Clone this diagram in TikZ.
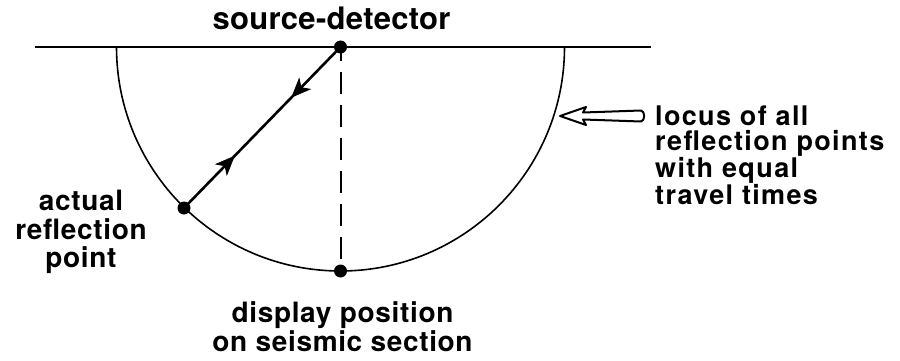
\documentclass[tikz,border=0pt]{standalone}
\usepackage{fontspec}
\setmainfont{TeX Gyre Heros}
\usetikzlibrary{calc}
\begin{document}
\begin{tikzpicture}[x=1pt,y=-1pt,
  dot/.style={circle,fill=black,inner sep=0pt,minimum size=13pt},
  geo/.style={line width=1.6pt},
  ray/.style={line width=2.6pt},
  head/.style={fill=black,draw=black,line width=0.8pt,line join=miter},
  dash line/.style={line width=2pt,dash pattern=on 22pt off 11pt,dash phase=8pt},
  lbl/.style={inner sep=0pt,text=black},
  bigfont/.style={font=\bfseries\fontsize{31}{31}\selectfont\addfontfeature{LetterSpace=1}},
  rfont/.style={font=\bfseries\fontsize{27}{25}\selectfont\addfontfeature{LetterSpace=5}},
  lfont/.style={font=\bfseries\fontsize{28}{28.5}\selectfont\addfontfeature{LetterSpace=2.3}},
  hollow/.style={line width=2pt,line join=round,fill=white}
]
\useasboundingbox (0,0) rectangle (900,361);
% ground line
\coordinate (gl) at (35,47);
\coordinate (gr) at (651,47);
\draw[geo] (gl) -- (gr);
% semicircle locus
\draw[geo] (116.5,47) arc[start angle=180,end angle=360,radius=224pt];
% points
\node[dot] (src) at (340.5,47) {};
\node[dot] (disp) at (340.5,271) {};
\node[dot] (refl) at (184,208) {};
% connectors
\draw[dash line] (src.center) -- (disp.center);
\draw[ray] (src.center) -- (refl.center);
\coordinate (a1) at ($(src.center)!0.31!(refl.center)$);
\coordinate (a2) at ($(src.center)!0.68!(refl.center)$);
% arrowhead pointing down-left (towards reflection point)
\filldraw[head] (a1) -- ($(a1)+(17.93,-7.68)$) -- ($(a1)+(9.06,-9.32)$)
  -- ($(a1)+(7.17,-18.14)$) -- cycle;
% arrowhead pointing up-right (towards source)
\filldraw[head] (a2) -- ($(a2)-(17.93,-7.68)$) -- ($(a2)-(9.06,-9.32)$)
  -- ($(a2)-(7.17,-18.14)$) -- cycle;
% hollow arrow
\draw[hollow] (560,116) -- (586,107) -- (583,112.5) -- (641,110.5)
  to[out=-10,in=10] (641,121.5) -- (583,119.5) -- (586,125) -- cycle;
% labels
\node[lbl,bigfont,anchor=base] (srclbl) at (331.5,30) {source-detector};
\node[lbl,rfont,anchor=north west,align=left] (locus) at (655,105.5)
  {locus of all\\reflection points\\with equal\\travel times};
\node[lbl,lfont,anchor=north,align=center] (actual) at (81,190)
  {actual\\reflection\\point};
\node[lbl,lfont,anchor=north,align=center] (display) at (342.5,301.7)
  {display position\\on seismic section};
\end{tikzpicture}
\end{document}
